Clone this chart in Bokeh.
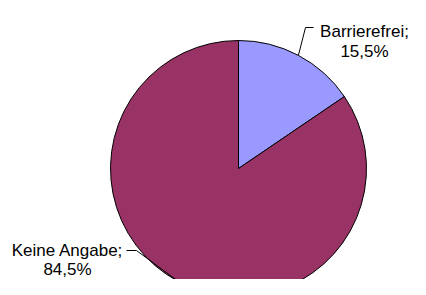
import math
from bokeh.plotting import figure
from bokeh.models import Range1d
from bokeh.core.properties import value
from bokeh.embed import file_html
from bokeh.resources import INLINE

# data
categories = ["Barrierefrei", "Keine Angabe"]
shares = [15.5, 84.5]
share_labels = ["15,5%", "84,5%"]
colors = ["#9999FF", "#993366"]

# layout (pixel space, y measured from the top; converted below)
W, H = 410, 279          # figure size that fits the window
REF_H = 295
cx, cy, R = 238, REF_H - 168, 128
# label anchors: (centre x, first-line baseline y from top), line spacing
label_pos = [(364, 31), (67, 250)]
line_gap = [20, 19]
elbow_pos = [(305, 27), (136, 250)]
hook_end = [(313, 27), (126, 250)]

p = figure(width=W, height=H, output_backend="svg", toolbar_location=None,
           x_range=Range1d(0, W), y_range=Range1d(REF_H - H, REF_H), min_border=0)
p.axis.visible = False
p.grid.visible = False
p.outline_line_color = None
p.background_fill_color = "white"

total = sum(shares)
cum = 0.0
starts, ends, mids = [], [], []
for s in shares:
    a0 = math.pi / 2 - 2 * math.pi * cum / total
    cum += s
    a1 = math.pi / 2 - 2 * math.pi * cum / total
    starts.append(a0)
    ends.append(a1)
    mids.append((a0 + a1) / 2)

p.wedge(x=[cx] * len(shares), y=[cy] * len(shares), radius=R,
        start_angle=starts, end_angle=ends, direction="clock",
        fill_color=colors, line_color="black", line_width=1)

for i, cat in enumerate(categories):
    ex = cx + R * math.cos(mids[i])
    ey = cy + R * math.sin(mids[i])
    bx, by = elbow_pos[i]
    hx, hy = hook_end[i]
    p.line(x=[ex, bx, hx], y=[ey, REF_H - by, REF_H - hy], line_color="black", line_width=1)
    lx, ly = label_pos[i]
    p.text(x=[lx], y=[REF_H - ly], text=[cat + ";"], text_align="center",
           text_baseline="alphabetic", text_font=value("Liberation Sans"),
           text_font_size="17px", text_color="black")
    p.text(x=[lx], y=[REF_H - ly - line_gap[i]], text=[share_labels[i]], text_align="center",
           text_baseline="alphabetic", text_font=value("Liberation Sans"),
           text_font_size="17px", text_color="black")

open("out.html", "w").write(file_html(p, INLINE))
